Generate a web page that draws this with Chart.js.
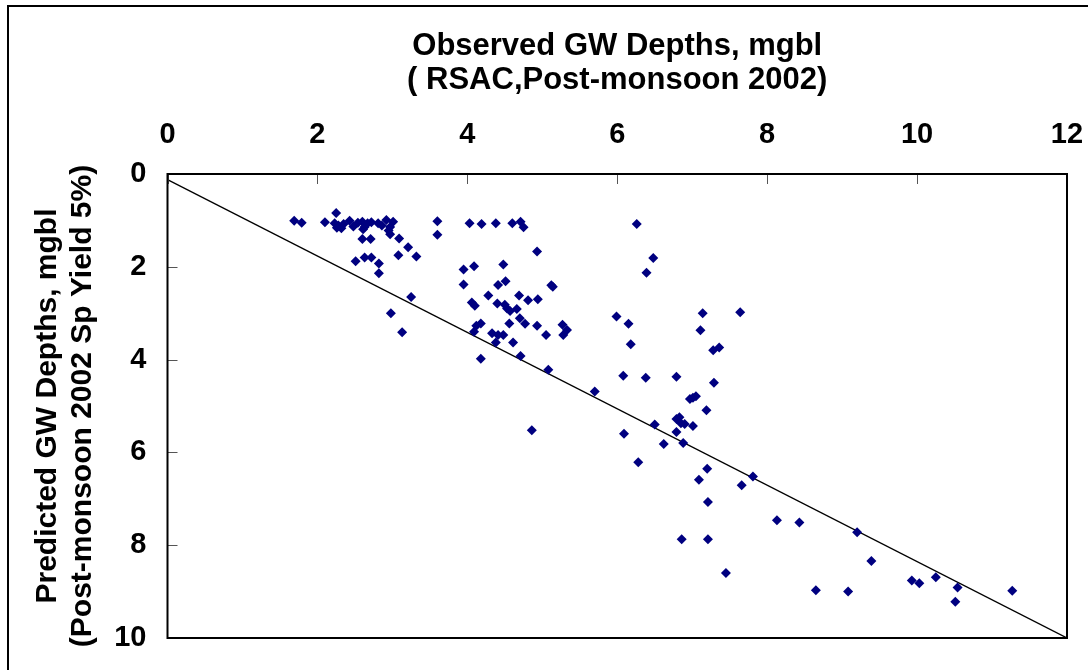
<!DOCTYPE html>
<html>
<head>
<meta charset="utf-8">
<script src="https://cdn.jsdelivr.net/npm/chart.js@4"></script>
<style>
  body { margin: 0; background: #fff; overflow: hidden; }
  #wrap { position: relative; width: 1088px; height: 670px; }
  #frame { position: absolute; left: 7px; top: 5px; width: 1200px; height: 800px;
           border-left: 2px solid #000; border-top: 2px solid #000; }
  canvas { position: absolute; left: 0; top: 0; }
</style>
</head>
<body>
<div id="wrap">
  <div id="frame"></div>
  <canvas id="scatter" width="1088" height="670"></canvas>
</div>
<script>
// Observed (x) vs predicted (y) depths
const observed = [
  1.69, 1.79, 2.10, 2.25, 2.23, 2.28, 2.32, 2.26, 2.35, 2.43,
  2.48, 2.54, 2.60, 2.63, 2.61, 2.67, 2.72, 2.81, 2.86, 2.92,
  2.97, 3.01, 2.95, 2.97, 3.09, 2.60, 2.71, 3.21, 3.08, 3.32,
  2.51, 2.63, 2.72, 2.82, 2.82, 3.60, 3.60, 3.25, 2.98, 3.13,
  4.03, 4.19, 4.38, 4.60, 4.71, 4.75, 4.93, 3.95, 4.09, 4.48,
  3.95, 4.41, 4.51, 5.12, 5.14, 4.28, 4.06, 4.10, 4.40, 4.50,
  4.53, 4.57, 4.66, 4.69, 4.81, 4.94, 4.12, 4.18, 4.09, 4.56,
  4.70, 4.77, 4.93, 5.27, 5.33, 5.28, 4.33, 4.41, 4.48, 4.38,
  5.05, 4.61, 5.99, 6.15, 6.18, 4.71, 4.18, 5.08, 4.86, 6.26,
  6.48, 6.39, 7.11, 7.14, 7.64, 7.28, 7.36, 5.70, 6.08, 6.38,
  6.79, 7.29, 6.97, 7.01, 7.05, 7.19, 6.79, 6.83, 6.85, 6.90,
  7.01, 6.79, 6.50, 6.09, 6.62, 6.88, 6.28, 7.20, 7.09, 7.81,
  7.66, 7.21, 8.13, 8.43, 6.86, 7.21, 7.45, 9.20, 9.39, 8.65,
  9.08, 9.93, 10.03, 10.25, 10.54, 10.51, 11.27
]
const predicted = [
  1.01, 1.05, 1.04, 0.84, 1.06, 1.11, 1.17, 1.16, 1.08, 1.01,
  1.13, 1.05, 1.03, 1.14, 1.19, 1.06, 1.04, 1.06, 1.11, 0.99,
  1.14, 1.03, 1.22, 1.30, 1.39, 1.40, 1.40, 1.58, 1.75, 1.78,
  1.88, 1.80, 1.80, 1.93, 2.14, 1.02, 1.31, 2.65, 3.00, 3.41,
  1.06, 1.08, 1.06, 1.06, 1.03, 1.15, 1.67, 2.06, 1.99, 1.95,
  2.38, 2.39, 2.31, 2.40, 2.43, 2.62, 2.77, 2.84, 2.79, 2.82,
  2.90, 2.95, 2.91, 2.62, 2.72, 2.70, 3.27, 3.22, 3.40, 3.22,
  3.11, 3.23, 3.27, 3.25, 3.36, 3.47, 3.43, 3.47, 3.47, 3.63,
  3.47, 3.63, 3.07, 3.23, 3.67, 3.92, 3.98, 4.22, 5.52, 1.08,
  1.81, 2.13, 3.37, 3.00, 2.98, 3.80, 3.74, 4.69, 4.35, 4.39,
  4.37, 4.50, 4.85, 4.82, 4.79, 5.09, 5.28, 5.24, 5.37, 5.39,
  5.43, 5.56, 5.40, 5.60, 5.82, 5.80, 6.21, 6.35, 6.59, 6.52,
  6.71, 7.07, 7.46, 7.51, 7.87, 7.87, 8.60, 7.72, 8.34, 8.97,
  9.00, 8.76, 8.82, 8.69, 8.91, 9.22, 8.98
]

// fitted line end points
const fitX = [0, 12]
const fitY = [0.12, 10]

// axis ticks
const xTicks = [0, 2, 4, 6, 8, 10, 12]
const yTicks = [0, 2, 4, 6, 8, 10]

const fontFamily = '"Liberation Sans", Arial, sans-serif'

// plot box and short inward tick marks
const frameAndTicks = {
  id: 'frameAndTicks',
  afterDraw(chart) {
    const { ctx, chartArea: a, scales } = chart
    ctx.save()
    ctx.strokeStyle = '#555'
    ctx.lineWidth = 1
    ctx.beginPath()
    xTicks.forEach(v => {
      const px = Math.round(scales.x.getPixelForValue(v)) + 0.5
      ctx.moveTo(px, a.top)
      ctx.lineTo(px, a.top + 10)
    })
    yTicks.forEach(v => {
      const py = Math.round(scales.y.getPixelForValue(v)) + 0.5
      ctx.moveTo(a.left, py)
      ctx.lineTo(a.left + 10, py)
    })
    ctx.stroke()
    ctx.strokeStyle = '#000'
    ctx.lineWidth = 2
    ctx.strokeRect(a.left, a.top, a.right - a.left, a.bottom - a.top)
    ctx.restore()
  }
}

const ctx = document.querySelector('#scatter').getContext('2d')

new Chart(ctx, {
  type: 'scatter',
  data: {
    datasets: [{
      label: 'GW depths',
      data: observed.map((x, i) => ({ x: x, y: predicted[i] })),
      pointStyle: 'rectRot',
      pointRadius: 5,
      pointHoverRadius: 5,
      backgroundColor: '#000080',
      borderColor: '#000080',
      borderWidth: 0
    }, {
      label: 'fit',
      data: fitX.map((x, i) => ({ x: x, y: fitY[i] })),
      showLine: true,
      pointRadius: 0,
      borderColor: '#000',
      borderWidth: 1.3,
      fill: false
    }]
  },
  options: {
    responsive: false,
    animation: false,
    layout: {
      padding: { left: 8, top: 8, right: 21, bottom: 32 }
    },
    plugins: {
      legend: { display: false },
      tooltip: { enabled: false }
    },
    scales: {
      x: {
        type: 'linear',
        position: 'top',
        min: 0,
        max: 12,
        afterBuildTicks: (scale) => { scale.ticks = xTicks.map(v => ({ value: v })) },
        afterFit: (scale) => {
          scale.height = 166
          scale.paddingLeft = 0
          scale.paddingRight = 0
        },
        ticks: {
          color: '#000',
          padding: 14,
          font: { family: fontFamily, size: 29, weight: 'bold' }
        },
        grid: { display: false },
        border: { display: false },
        title: {
          display: true,
          text: ['Observed GW Depths, mgbl', '( RSAC,Post-monsoon 2002)'],
          color: '#000',
          padding: { top: 21, bottom: 0 },
          font: { family: fontFamily, size: 31, weight: 'bold', lineHeight: 1.1 }
        }
      },
      y: {
        type: 'linear',
        reverse: true,
        min: 0,
        max: 10,
        afterBuildTicks: (scale) => { scale.ticks = yTicks.map(v => ({ value: v })) },
        afterFit: (scale) => {
          scale.width = 159.5
          scale.paddingTop = 0
          scale.paddingBottom = 0
        },
        ticks: {
          color: '#000',
          padding: 13,
          font: { family: fontFamily, size: 29, weight: 'bold' }
        },
        grid: { display: false },
        border: { display: false },
        title: {
          display: true,
          text: ['Predicted GW Depths, mgbl', '(Post-monsoon 2002 Sp Yield 5%)'],
          color: '#000',
          padding: { top: 22.5, bottom: 0 },
          font: { family: fontFamily, size: 30, weight: 'bold', lineHeight: 1.17 }
        }
      }
    }
  },
  plugins: [frameAndTicks]
})
</script>
</body>
</html>
